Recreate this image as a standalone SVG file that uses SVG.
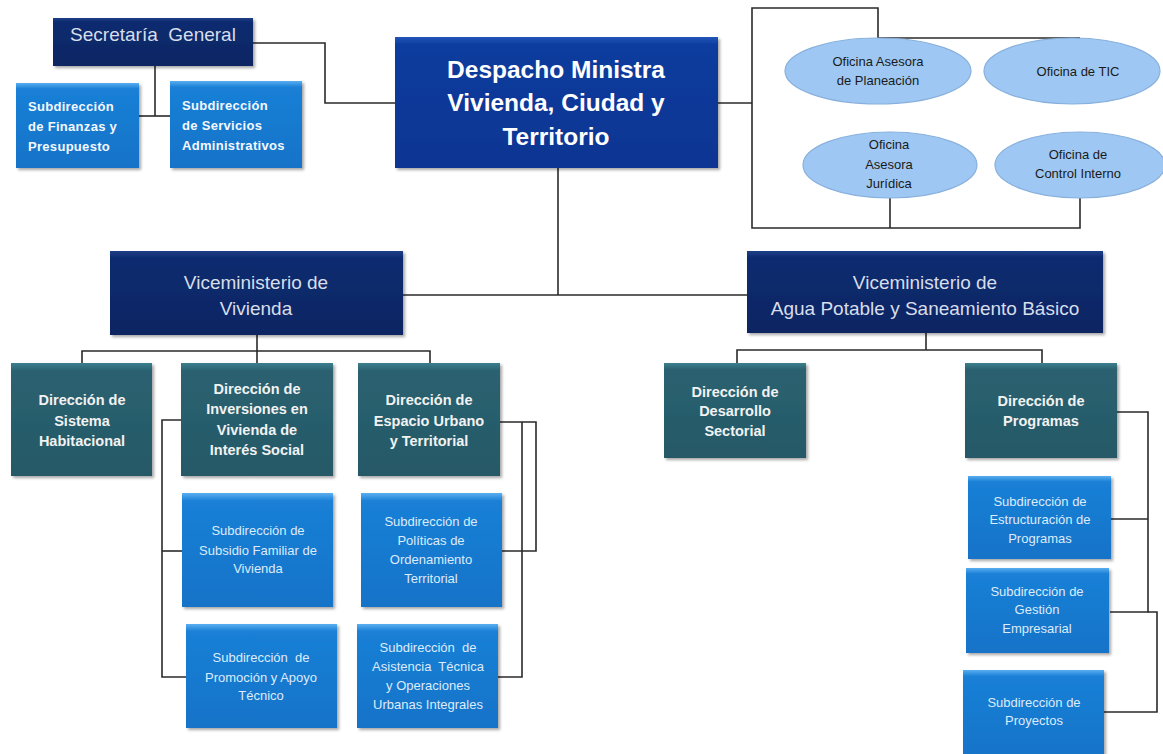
<svg xmlns="http://www.w3.org/2000/svg" width="1163" height="754" viewBox="0 0 1163 754">
<defs>
<linearGradient id="gNavy" x1="0" y1="0" x2="0" y2="1"><stop offset="0" stop-color="#1D3F86"/><stop offset="0.08" stop-color="#0E2C70"/><stop offset="1" stop-color="#0B2562"/></linearGradient>
<linearGradient id="gRoyal" x1="0" y1="0" x2="0" y2="1"><stop offset="0" stop-color="#2456B8"/><stop offset="0.06" stop-color="#0A3C9E"/><stop offset="1" stop-color="#083592"/></linearGradient>
<linearGradient id="gTeal" x1="0" y1="0" x2="0" y2="1"><stop offset="0" stop-color="#3C7F8E"/><stop offset="0.07" stop-color="#2A6170"/><stop offset="1" stop-color="#265968"/></linearGradient>
<linearGradient id="gSky" x1="0" y1="0" x2="0" y2="1"><stop offset="0" stop-color="#5AAEF0"/><stop offset="0.07" stop-color="#1A80D6"/><stop offset="1" stop-color="#1273C8"/></linearGradient>
<filter id="sh" x="-10%" y="-10%" width="125%" height="130%"><feDropShadow dx="2" dy="2" stdDeviation="1.5" flood-color="#000" flood-opacity="0.35"/></filter>
<style>
.navy{fill:url(#gNavy);filter:url(#sh)}
.royal{fill:url(#gRoyal);filter:url(#sh)}
.teal{fill:url(#gTeal);filter:url(#sh)}
.sky{fill:url(#gSky);filter:url(#sh)}
.oval{fill:#9EC8F3;stroke:#88B0DC;stroke-width:1.2}
.conn{stroke:#2A2A2A;stroke-width:1.6;fill:none}
text{font-family:"Liberation Sans",Arial,sans-serif;text-anchor:middle}
.tn{font-size:19px;fill:#D8DEEA}
.td{font-size:24.5px;font-weight:bold;fill:#FFFFFF}
.tt{font-size:14.5px;font-weight:bold;fill:#F2F2F2}
.ts{font-size:13px;fill:#DDEBFA}
.tb{font-size:13px;font-weight:bold;fill:#F4F8FF;text-anchor:start;letter-spacing:0.3px}
.to{font-size:13px;fill:#1A1A1A}
</style>
</defs>
<rect width="1163" height="754" fill="#FFFFFF"/>
<g id="connectors">
<polyline class="conn" points="253,43 325,43 325,103 395,103"/>
<line class="conn" x1="155" y1="66" x2="155" y2="116"/>
<line class="conn" x1="139" y1="116" x2="170" y2="116"/>
<line class="conn" x1="718" y1="103" x2="752" y2="103"/>
<polyline class="conn" points="878,38 878,8 752,8 752,228 1080,228 1080,197"/>
<line class="conn" x1="878" y1="38" x2="1080" y2="38"/>
<line class="conn" x1="890" y1="228" x2="890" y2="197"/>
<line class="conn" x1="558" y1="168" x2="558" y2="295"/>
<line class="conn" x1="403" y1="295" x2="747" y2="295"/>
<line class="conn" x1="257" y1="335" x2="257" y2="363"/>
<polyline class="conn" points="82,363 82,351 430,351 430,363"/>
<polyline class="conn" points="181,420 162,420 162,677 187,677"/>
<line class="conn" x1="162" y1="551" x2="183" y2="551"/>
<polyline class="conn" points="500,422 536,422 536,551 502,551"/>
<polyline class="conn" points="522,422 522,677 498,677"/>
<line class="conn" x1="926" y1="333" x2="926" y2="350"/>
<polyline class="conn" points="737,363 737,350 1042,350 1042,363"/>
<polyline class="conn" points="1117,412 1148,412 1148,612 1110,612"/>
<line class="conn" x1="1148" y1="519" x2="1111" y2="519"/>
<polyline class="conn" points="1148,612 1157,612 1157,712 1104,712"/>
</g>
<g id="secretaria">
<rect class="navy" x="53" y="18" width="200" height="48"/>
<text class="tn" x="153" y="41" xml:space="preserve">Secretaría  General</text>
</g>
<g id="sub-finanzas">
<rect class="sky" x="16" y="83" width="123" height="85"/>
<text class="tb" x="28" y="111">Subdirección</text>
<text class="tb" x="28" y="131">de Finanzas y</text>
<text class="tb" x="28" y="151">Presupuesto</text>
</g>
<g id="sub-servicios">
<rect class="sky" x="170" y="81" width="132" height="87"/>
<text class="tb" x="182" y="110">Subdirección</text>
<text class="tb" x="182" y="130">de Servicios</text>
<text class="tb" x="182" y="150">Administrativos</text>
</g>
<g id="despacho">
<rect class="royal" x="395" y="37" width="323" height="131"/>
<text class="td" x="556" y="78">Despacho Ministra</text>
<text class="td" x="556" y="111">Vivienda, Ciudad y</text>
<text class="td" x="556" y="145">Territorio</text>
</g>
<g id="of-planeacion">
<ellipse class="oval" cx="878" cy="71" rx="93" ry="33"/>
<text class="to" x="878" y="66">Oficina Asesora</text>
<text class="to" x="878" y="85">de Planeación</text>
</g>
<g id="of-tic">
<ellipse class="oval" cx="1072" cy="71" rx="88" ry="33"/>
<text class="to" x="1078" y="76">Oficina de TIC</text>
</g>
<g id="of-juridica">
<ellipse class="oval" cx="890" cy="165" rx="87" ry="33"/>
<text class="to" x="889" y="149">Oficina</text>
<text class="to" x="889" y="169">Asesora</text>
<text class="to" x="889" y="188">Jurídica</text>
</g>
<g id="of-control">
<ellipse class="oval" cx="1080" cy="165" rx="85" ry="33"/>
<text class="to" x="1078" y="159">Oficina de</text>
<text class="to" x="1078" y="178">Control Interno</text>
</g>
<g id="vice-vivienda">
<rect class="navy" x="110" y="251" width="293" height="84"/>
<text class="tn" x="256" y="289">Viceministerio de</text>
<text class="tn" x="256" y="315">Vivienda</text>
</g>
<g id="vice-agua">
<rect class="navy" x="747" y="251" width="356" height="82"/>
<text class="tn" x="925" y="289">Viceministerio de</text>
<text class="tn" x="925" y="315">Agua Potable y Saneamiento Básico</text>
</g>
<g id="dir-sistema">
<rect class="teal" x="11" y="363" width="141" height="113"/>
<text class="tt" x="82" y="405">Dirección de</text>
<text class="tt" x="82" y="426">Sistema</text>
<text class="tt" x="82" y="446">Habitacional</text>
</g>
<g id="dir-inversiones">
<rect class="teal" x="181" y="363" width="152" height="113"/>
<text class="tt" x="257" y="394">Dirección de</text>
<text class="tt" x="257" y="414">Inversiones en</text>
<text class="tt" x="257" y="435">Vivienda de</text>
<text class="tt" x="257" y="455">Interés Social</text>
</g>
<g id="dir-espacio">
<rect class="teal" x="358" y="363" width="142" height="113"/>
<text class="tt" x="429" y="405">Dirección de</text>
<text class="tt" x="429" y="426">Espacio Urbano</text>
<text class="tt" x="429" y="446">y Territorial</text>
</g>
<g id="sub-subsidio">
<rect class="sky" x="182" y="493" width="151" height="114"/>
<text class="ts" x="258" y="535">Subdirección de</text>
<text class="ts" x="258" y="555">Subsidio Familiar de</text>
<text class="ts" x="258" y="573">Vivienda</text>
</g>
<g id="sub-promocion">
<rect class="sky" x="186" y="624" width="151" height="104"/>
<text class="ts" x="261" y="662" xml:space="preserve">Subdirección  de</text>
<text class="ts" x="261" y="682">Promoción y Apoyo</text>
<text class="ts" x="261" y="700">Técnico</text>
</g>
<g id="sub-politicas">
<rect class="sky" x="361" y="493" width="141" height="114"/>
<text class="ts" x="431" y="526">Subdirección de</text>
<text class="ts" x="431" y="545">Políticas de</text>
<text class="ts" x="431" y="564">Ordenamiento</text>
<text class="ts" x="431" y="583">Territorial</text>
</g>
<g id="sub-asistencia">
<rect class="sky" x="357" y="624" width="141" height="104"/>
<text class="ts" x="428" y="652" xml:space="preserve">Subdirección  de</text>
<text class="ts" x="428" y="671" xml:space="preserve">Asistencia  Técnica</text>
<text class="ts" x="428" y="690">y Operaciones</text>
<text class="ts" x="428" y="709">Urbanas Integrales</text>
</g>
<g id="dir-desarrollo">
<rect class="teal" x="664" y="363" width="142" height="95"/>
<text class="tt" x="735" y="397">Dirección de</text>
<text class="tt" x="735" y="416">Desarrollo</text>
<text class="tt" x="735" y="436">Sectorial</text>
</g>
<g id="dir-programas">
<rect class="teal" x="965" y="363" width="152" height="95"/>
<text class="tt" x="1041" y="406">Dirección de</text>
<text class="tt" x="1041" y="426">Programas</text>
</g>
<g id="sub-estructuracion">
<rect class="sky" x="968" y="476" width="143" height="83"/>
<text class="ts" x="1040" y="506">Subdirección de</text>
<text class="ts" x="1040" y="524">Estructuración de</text>
<text class="ts" x="1040" y="543">Programas</text>
</g>
<g id="sub-gestion">
<rect class="sky" x="966" y="568" width="143" height="85"/>
<text class="ts" x="1037" y="596">Subdirección de</text>
<text class="ts" x="1037" y="614">Gestión</text>
<text class="ts" x="1037" y="633">Empresarial</text>
</g>
<g id="sub-proyectos">
<rect class="sky" x="963" y="670" width="141" height="90"/>
<text class="ts" x="1034" y="707">Subdirección de</text>
<text class="ts" x="1034" y="725">Proyectos</text>
</g>
</svg>
